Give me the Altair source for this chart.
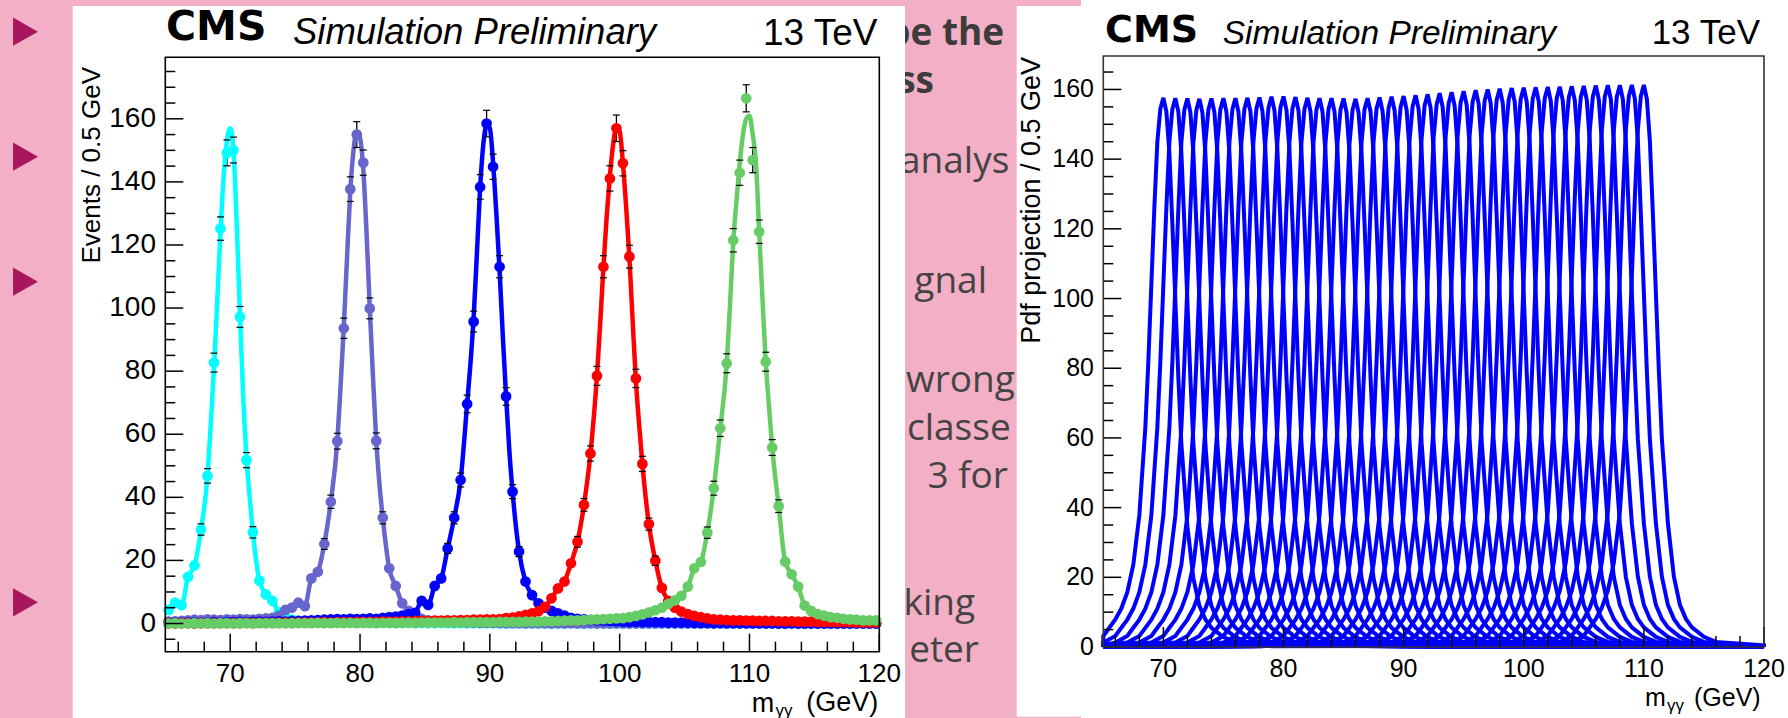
import altair as alt
import pandas as pd

W, H = 1788, 718
PINK = "#F3AFC5"
ROOTFONT = "Liberation Sans"

# ---------------- left panel: events per 0.5 GeV bin ----------------
BIN_CENTERS = [65.25 + 0.5 * i for i in range(110)]

M70 = [4.3, 6.6, 5.8, 14.8, 18.4, 29.8, 46.8, 82.7, 125.2, 149.2,
       150.1, 97.2, 51.8, 28.9, 13.6, 9.2, 7.2, 3.5, 1.8, 1.2,
       0.8, 0.6, 0.5, 0.4, 0.5, 0.3, 0.4, 0.3, 0.3, 0.2,
       0.3, 0.2, 0.2, 0.3, 0.2, 0.1, 0.2, 0.2, 0.1, 0.2,
       0.1, 0.1, 0.2, 0.1, 0.1, 0.1, 0.1, 0.1, 0.1, 0.1,
       0.1, 0.0, 0.1, 0.0, 0.1, 0.0, 0.0, 0.1, 0.0, 0.0,
       0.0, 0.0, 0.1, 0.0, 0.0, 0.0, 0.0, 0.0, 0.0, 0.0,
       0.0, 0.0, 0.0, 0.0, 0.0, 0.0, 0.0, 0.0, 0.0, 0.0,
       0.0, 0.0, 0.0, 0.0, 0.0, 0.0, 0.0, 0.0, 0.0, 0.0,
       0.0, 0.0, 0.0, 0.0, 0.0, 0.0, 0.0, 0.0, 0.0, 0.0,
       0.0, 0.0, 0.0, 0.0, 0.0, 0.0, 0.0, 0.0, 0.0, 0.0]

M80 = [0.6, 0.7, 0.8, 1.0, 1.2, 1.1, 1.3, 1.2, 1.1, 1.3,
       1.2, 1.4, 1.3, 1.2, 1.5, 1.6, 1.8, 2.5, 4.3, 5.0,
       6.6, 5.5, 14.3, 16.4, 25.2, 38.6, 57.8, 93.6, 137.7, 155.0,
       146.1, 99.9, 57.9, 33.5, 17.5, 11.9, 6.4, 4.0, 2.5, 1.5,
       1.0, 0.8, 0.6, 0.5, 0.4, 0.4, 0.3, 0.3, 0.2, 0.2,
       0.2, 0.2, 0.1, 0.2, 0.1, 0.1, 0.1, 0.1, 0.1, 0.0,
       0.1, 0.0, 0.1, 0.0, 0.0, 0.1, 0.0, 0.0, 0.0, 0.0,
       0.0, 0.0, 0.0, 0.0, 0.0, 0.0, 0.0, 0.0, 0.0, 0.0,
       0.0, 0.0, 0.0, 0.0, 0.0, 0.0, 0.0, 0.0, 0.0, 0.0,
       0.0, 0.0, 0.0, 0.0, 0.0, 0.0, 0.0, 0.0, 0.0, 0.0,
       0.0, 0.0, 0.0, 0.0, 0.0, 0.0, 0.0, 0.0, 0.0, 0.0]

M90 = [0.2, 0.3, 0.2, 0.3, 0.3, 0.2, 0.3, 0.4, 0.3, 0.4,
       0.4, 0.5, 0.4, 0.5, 0.6, 0.5, 0.6, 0.7, 0.6, 0.8,
       0.8, 0.9, 1.0, 1.1, 1.2, 1.3, 1.4, 1.3, 1.5, 1.4,
       1.5, 1.6, 1.5, 1.8, 2.0, 2.2, 2.5, 3.0, 3.4, 7.2,
       5.9, 11.9, 14.3, 23.8, 33.5, 45.5, 69.6, 95.7, 138.4, 158.5,
       144.8, 113.1, 72.0, 41.8, 22.8, 13.3, 9.0, 6.4, 5.0, 4.0,
       3.2, 2.5, 1.8, 1.5, 1.3, 1.1, 1.0, 0.9, 0.8, 0.7,
       0.6, 0.5, 0.5, 0.4, 0.5, 0.4, 0.4, 0.3, 0.3, 0.3,
       0.3, 0.2, 0.2, 0.2, 0.1, 0.2, 0.1, 0.1, 0.1, 0.1,
       0.1, 0.1, 0.0, 0.1, 0.0, 0.0, 0.1, 0.0, 0.0, 0.0,
       0.0, 0.0, 0.0, 0.0, 0.0, 0.0, 0.0, 0.0, 0.0, 0.0]

M100 = [0.1, 0.0, 0.1, 0.1, 0.0, 0.1, 0.1, 0.1, 0.1, 0.1,
        0.1, 0.1, 0.2, 0.1, 0.2, 0.2, 0.2, 0.2, 0.3, 0.2,
        0.3, 0.3, 0.3, 0.3, 0.4, 0.3, 0.4, 0.4, 0.4, 0.5,
        0.5, 0.5, 0.5, 0.6, 0.6, 0.6, 0.7, 0.7, 0.8, 0.8,
        0.8, 0.9, 0.9, 1.0, 1.0, 1.1, 1.1, 1.2, 1.2, 1.3,
        1.3, 1.4, 1.7, 1.9, 2.3, 2.7, 3.2, 3.9, 5.3, 8.0,
        11.1, 13.3, 19.1, 25.9, 37.6, 53.9, 78.5, 113.1, 141.1, 157.0,
        145.9, 116.3, 77.7, 50.6, 31.5, 19.9, 11.3, 7.2, 5.0, 3.8,
        3.0, 2.4, 2.0, 1.6, 1.3, 1.2, 1.1, 1.0, 1.0, 0.9,
        0.9, 0.8, 0.8, 0.8, 0.7, 0.7, 0.7, 0.6, 0.6, 0.6,
        0.5, 0.5, 0.5, 0.4, 0.4, 0.4, 0.3, 0.3, 0.3, 0.3]

M110 = [0.0, 0.1, 0.0, 0.0, 0.1, 0.0, 0.1, 0.0, 0.1, 0.1,
        0.0, 0.1, 0.1, 0.0, 0.1, 0.1, 0.1, 0.1, 0.0, 0.1,
        0.1, 0.1, 0.1, 0.2, 0.1, 0.1, 0.2, 0.1, 0.2, 0.1,
        0.2, 0.2, 0.1, 0.2, 0.2, 0.2, 0.2, 0.3, 0.2, 0.3,
        0.3, 0.3, 0.3, 0.3, 0.4, 0.3, 0.4, 0.4, 0.4, 0.4,
        0.4, 0.5, 0.5, 0.5, 0.5, 0.6, 0.6, 0.6, 0.7, 0.7,
        0.8, 0.9, 1.0, 1.0, 1.1, 1.2, 1.3, 1.4, 1.5, 1.6,
        1.7, 2.0, 2.4, 2.9, 3.5, 4.2, 5.0, 6.2, 7.3, 8.8,
        11.7, 17.5, 19.5, 28.8, 42.9, 61.9, 82.5, 121.5, 142.9, 166.5,
        146.9, 124.2, 83.0, 55.8, 37.2, 19.6, 15.6, 11.7, 5.7, 4.0,
        3.0, 2.5, 2.0, 1.8, 1.5, 1.3, 1.2, 1.0, 1.0, 1.0]

# fitted curves near each peak, sampled every 0.25 GeV from CURVE_START
CURVE_START = [68.5, 78.5, 88.5, 98.5, 108.5]
M70_CURVE = [63, 81, 102, 124, 142, 153, 157, 150, 127, 98, 72, 53, 40]
M80_CURVE = [75, 94, 116, 137, 150, 156, 154, 144, 124, 100, 78, 58, 44]
M90_CURVE = [82, 97, 117, 138, 152, 158, 157, 146, 130, 112, 91, 72, 55]
M100_CURVE = [95, 113, 129, 142, 152, 157, 156, 146, 132, 116, 96, 77, 63]
M110_CURVE = [101, 121, 134, 146, 155, 160, 161, 155, 146, 124, 103, 83, 69]

# statistical error bars (visible ones), every 0.5 GeV from ERR_START
ERR_START = [67.75, 77.25, 86.75, 96.75, 106.75]
M70_ERR = [1.8, 2.3, 3.0, 3.7, 4.1, 4.1, 3.3, 2.4, 1.8]
M80_ERR = [1.7, 2.1, 2.5, 3.2, 3.9, 4.1, 4.0, 3.3, 2.5, 1.9]
M90_ERR = [1.6, 1.9, 2.2, 2.8, 3.3, 3.9, 4.2, 4.0, 3.5, 2.8, 2.2, 1.6]
M100_ERR = [1.7, 2.0, 2.4, 3.0, 3.5, 4.0, 4.2, 4.0, 3.6, 2.9, 2.4, 1.9, 1.5]
M110_ERR = [1.8, 2.2, 2.6, 3.0, 3.7, 4.0, 4.3, 4.0, 3.7, 3.0, 2.5, 2.0]

SERIES_COLORS = ["#00FFFF", "#6666CC", "#0000FF", "#FF0000", "#66CC66"]

# ---------------- right panel: pdf projections ----------------
PDF_MASSES = list(range(70, 111))
PDF_PEAKS = [157.6, 157.5, 157.4, 157.3, 157.4, 157.5, 157.5, 157.6, 157.7, 157.9,
             158.0, 157.8, 157.6, 157.5, 157.5, 157.4, 157.3, 157.5, 157.7, 157.9,
             158.1, 158.3, 158.6, 158.9, 159.2, 159.5, 159.8, 160.0, 160.2, 160.4,
             160.5, 160.6, 160.7, 160.8, 160.9, 161.0, 161.1, 161.2, 161.2, 161.3, 161.3]
SHAPE_OFFSETS = [-45, -20, -10, -6, -5, -4.5, -4, -3.5, -3, -2.5,
                 -2, -1.5, -1.25, -1, -0.75, -0.5, -0.25, 0,
                 0.25, 0.5, 0.75, 1, 1.25, 1.5, 2, 2.5, 3, 3.5,
                 4, 5, 6, 10, 20, 50]
SHAPE_VALUES = [0.001, 0.002, 0.004, 0.008, 0.02, 0.035, 0.05, 0.07, 0.10, 0.15,
                0.24, 0.40, 0.52, 0.66, 0.80, 0.92, 0.98, 1.0,
                0.975, 0.90, 0.77, 0.63, 0.49, 0.37, 0.22, 0.125, 0.075, 0.05,
                0.035, 0.018, 0.009, 0.003, 0.001, 0.0005]

# ---------------- axis ticks ----------------
X_MAJOR = [70, 80, 90, 100, 110, 120]
X_MINOR = [66, 68, 72, 74, 76, 78, 82, 84, 86, 88, 92, 94, 96, 98,
           102, 104, 106, 108, 112, 114, 116, 118]
Y_MAJOR = [0, 20, 40, 60, 80, 100, 120, 140, 160]
YL_MINOR = [-5, 5, 10, 15, 25, 30, 35, 45, 50, 55, 65, 70, 75, 85, 90, 95,
            105, 110, 115, 125, 130, 135, 145, 150, 155, 165, 170, 175]
YR_MINOR = [5, 10, 15, 25, 30, 35, 45, 50, 55, 65, 70, 75, 85, 90, 95,
            105, 110, 115, 125, 130, 135, 145, 150, 155, 165]

# slide text fragments visible between the two figures
SLIDE_TEXT = [("be the", "left", 887, 45, "bold"),
              ("ss", "right", 934, 93, "bold"),
              ("analys", "left", 900, 173, "normal"),
              ("gnal", "right", 987, 293, "normal"),
              ("wrong", "left", 906, 392, "normal"),
              ("classe", "left", 907, 440, "normal"),
              ("3 for", "right", 1008, 488, "normal"),
              ("king", "right", 975, 615, "normal"),
              ("eter", "right", 979, 662, "normal")]


def one():
    return alt.Data(values=[{"k": 0}])


def box(x1, x2, y1, y2, **mk):
    return alt.Chart(one()).mark_rect(**mk).encode(
        x=alt.value(x1), x2=alt.value(x2), y=alt.value(y1), y2=alt.value(y2))


def label(txt, x, y, **mk):
    return alt.Chart(one()).mark_text(text=txt, **mk).encode(
        x=alt.value(x), y=alt.value(y))


def xs_left():
    return alt.Scale(domain=[65, 120], range=[165.3, 879.3], nice=False, zero=False)


def ys_left():
    return alt.Scale(domain=[-8.94, 179.5], range=[651.7, 57.3], nice=False, zero=False)


def xs_right():
    return alt.Scale(domain=[65, 120], range=[1103.3, 1764], nice=False, zero=False, clamp=True)


def ys_right():
    return alt.Scale(domain=[0, 169.6], range=[647, 56], nice=False, zero=False)


def xticks(vals, xs, y0, length):
    return alt.Chart(pd.DataFrame({"v": vals})).mark_rule(color="black", strokeWidth=1.5).encode(
        x=alt.X("v:Q", scale=xs, axis=None), y=alt.value(y0), y2=alt.value(y0 - length))


def yticks(vals, ys, x0, length):
    return alt.Chart(pd.DataFrame({"v": vals})).mark_rule(color="black", strokeWidth=1.5).encode(
        y=alt.Y("v:Q", scale=ys, axis=None), x=alt.value(x0), x2=alt.value(x0 + length))


layers = []

# slide text (partly hidden by the figures)
for txt, al, x, y, wt in SLIDE_TEXT:
    layers.append(label(txt, x, y, font="Open Sans", fontSize=37, fontWeight=wt,
                        color="#3C3C3C" if wt == "bold" else "#444444",
                        align=al, baseline="alphabetic"))

# white figure panels
layers.append(box(72.7, 905, 6, 718, color="white"))
layers.append(box(1016.7, 1788, 6, 716.7, color="white"))
layers.append(box(1081, 1788, 0, 718, color="white"))

# bullet triangles
TRI = "M-0.88,-1L0.88,0L-0.88,1Z"
for ty in [31.7, 156.7, 281.7, 602.3]:
    layers.append(alt.Chart(one()).mark_point(shape=TRI, size=800, filled=True, opacity=1,
                                              color="#A8175E", strokeWidth=0).encode(
        x=alt.value(25.5), y=alt.value(ty)))

# ---------------- left figure ----------------
left_series = [(M70, M70_CURVE, M70_ERR), (M80, M80_CURVE, M80_ERR), (M90, M90_CURVE, M90_ERR),
               (M100, M100_CURVE, M100_ERR), (M110, M110_CURVE, M110_ERR)]
for k, (vals, cvals, errs) in enumerate(left_series):
    color = SERIES_COLORS[k]
    pts = pd.DataFrame({"x": BIN_CENTERS, "y": vals})
    cx = [CURVE_START[k] + 0.25 * j for j in range(len(cvals))]
    outside = pts[(pts["x"] < cx[0]) | (pts["x"] > cx[-1])]
    curve = pd.concat([outside, pd.DataFrame({"x": cx, "y": cvals})]).sort_values("x")
    lookup = dict(zip(BIN_CENTERS, vals))
    ex = [ERR_START[k] + 0.5 * j for j in range(len(errs))]
    eb = pd.DataFrame({"x": ex,
                       "lo": [lookup[x] - e for x, e in zip(ex, errs)],
                       "hi": [lookup[x] + e for x, e in zip(ex, errs)]})
    layers.append(alt.Chart(eb).mark_rule(color="black", strokeWidth=1.3).encode(
        x=alt.X("x:Q", scale=xs_left(), axis=None),
        y=alt.Y("lo:Q", scale=ys_left(), axis=None), y2="hi:Q"))
    layers.append(alt.Chart(pts).mark_circle(size=115, color=color, opacity=1).encode(
        x=alt.X("x:Q", scale=xs_left(), axis=None),
        y=alt.Y("y:Q", scale=ys_left(), axis=None)))
    layers.append(alt.Chart(curve).mark_line(color=color, strokeWidth=4.5, interpolate="monotone").encode(
        x=alt.X("x:Q", scale=xs_left(), axis=None),
        y=alt.Y("y:Q", scale=ys_left(), axis=None)))
    for f in ["lo", "hi"]:
        layers.append(alt.Chart(eb).mark_tick(orient="horizontal", size=7, thickness=1.2,
                                              color="black", opacity=1).encode(
            x=alt.X("x:Q", scale=xs_left(), axis=None),
            y=alt.Y(f + ":Q", scale=ys_left(), axis=None)))

layers.append(xticks(X_MAJOR, xs_left(), 651.7, 18))
layers.append(xticks(X_MINOR, xs_left(), 651.7, 10))
layers.append(yticks(Y_MAJOR, ys_left(), 165.3, 18))
layers.append(yticks(YL_MINOR, ys_left(), 165.3, 10))
layers.append(box(165.3, 879.3, 57.3, 651.7, fillOpacity=0, stroke="black", strokeWidth=1.6))
layers.append(alt.Chart(pd.DataFrame({"v": X_MAJOR})).mark_text(
    font=ROOTFONT, fontSize=26, align="center", baseline="alphabetic", color="black").encode(
    x=alt.X("v:Q", scale=xs_left(), axis=None), y=alt.value(682),
    text=alt.Text("v:Q", format="d")))
layers.append(alt.Chart(pd.DataFrame({"v": Y_MAJOR})).mark_text(
    font=ROOTFONT, fontSize=28, align="right", baseline="middle", color="black").encode(
    y=alt.Y("v:Q", scale=ys_left(), axis=None), x=alt.value(156),
    text=alt.Text("v:Q", format="d")))
layers.append(label("Events / 0.5 GeV", 100, 67, font=ROOTFONT, fontSize=26, angle=270,
                    align="right", baseline="alphabetic", color="black"))
layers.append(label("m", 751.7, 711.5, font=ROOTFONT, fontSize=27, align="left",
                    baseline="alphabetic", color="black"))
layers.append(label("γγ", 775.5, 715.5, font=ROOTFONT, fontSize=17, align="left",
                    baseline="alphabetic", color="black"))
layers.append(label("(GeV)", 878.3, 711, font=ROOTFONT, fontSize=27, align="right",
                    baseline="alphabetic", color="black"))
layers.append(label("CMS", 166, 40, font="DejaVu Sans", fontSize=41, fontWeight="bold",
                    align="left", baseline="alphabetic", color="black"))
layers.append(label("Simulation Preliminary", 293, 44, font=ROOTFONT, fontSize=36.5,
                    fontStyle="italic", align="left", baseline="alphabetic", color="black"))
layers.append(label("13 TeV", 877.5, 45, font=ROOTFONT, fontSize=37, align="right",
                    baseline="alphabetic", color="black"))

# ---------------- right figure ----------------
rows = []
for m, h in zip(PDF_MASSES, PDF_PEAKS):
    for off, s in zip(SHAPE_OFFSETS, SHAPE_VALUES):
        rows.append({"mass": m, "x": m + off, "y": h * s})
pdf = pd.DataFrame(rows)
layers.append(alt.Chart(pdf).mark_line(color="#0000FF", strokeWidth=4, interpolate="linear").encode(
    x=alt.X("x:Q", scale=xs_right(), axis=None),
    y=alt.Y("y:Q", scale=ys_right(), axis=None),
    detail="mass:N", order="x:Q"))
layers.append(xticks(X_MAJOR, xs_right(), 647, 20))
layers.append(xticks(X_MINOR, xs_right(), 647, 11))
layers.append(yticks(Y_MAJOR, ys_right(), 1103.3, 18))
layers.append(yticks(YR_MINOR, ys_right(), 1103.3, 10))
layers.append(box(1103.3, 1764, 56, 647, fillOpacity=0, stroke="#333333", strokeWidth=1.6))
layers.append(alt.Chart(pd.DataFrame({"v": X_MAJOR})).mark_text(
    font=ROOTFONT, fontSize=25, align="center", baseline="alphabetic", color="black").encode(
    x=alt.X("v:Q", scale=xs_right(), axis=None), y=alt.value(677),
    text=alt.Text("v:Q", format="d")))
layers.append(alt.Chart(pd.DataFrame({"v": Y_MAJOR})).mark_text(
    font=ROOTFONT, fontSize=25, align="right", baseline="middle", color="black").encode(
    y=alt.Y("v:Q", scale=ys_right(), axis=None), x=alt.value(1094),
    text=alt.Text("v:Q", format="d")))
layers.append(label("Pdf projection / 0.5 GeV", 1040, 57, font=ROOTFONT, fontSize=27, angle=270,
                    align="right", baseline="alphabetic", color="black"))
layers.append(label("m", 1645, 706, font=ROOTFONT, fontSize=25, align="left",
                    baseline="alphabetic", color="black"))
layers.append(label("γγ", 1667, 710.5, font=ROOTFONT, fontSize=17, align="left",
                    baseline="alphabetic", color="black"))
layers.append(label("(GeV)", 1760.7, 706, font=ROOTFONT, fontSize=25, align="right",
                    baseline="alphabetic", color="black"))
layers.append(label("CMS", 1105, 41.5, font="DejaVu Sans", fontSize=38, fontWeight="bold",
                    align="left", baseline="alphabetic", color="black"))
layers.append(label("Simulation Preliminary", 1222.7, 43.5, font=ROOTFONT, fontSize=33.5,
                    fontStyle="italic", align="left", baseline="alphabetic", color="black"))
layers.append(label("13 TeV", 1760, 44, font=ROOTFONT, fontSize=35, align="right",
                    baseline="alphabetic", color="black"))

chart = alt.layer(*layers).properties(
    width=W, height=H,
    autosize=alt.AutoSizeParams(type="none"),
    padding=0,
    background=PINK,
).resolve_scale(x="independent", y="independent").configure_view(stroke=None)

chart.save("out.html", embed_options={"renderer": "svg", "actions": False})
